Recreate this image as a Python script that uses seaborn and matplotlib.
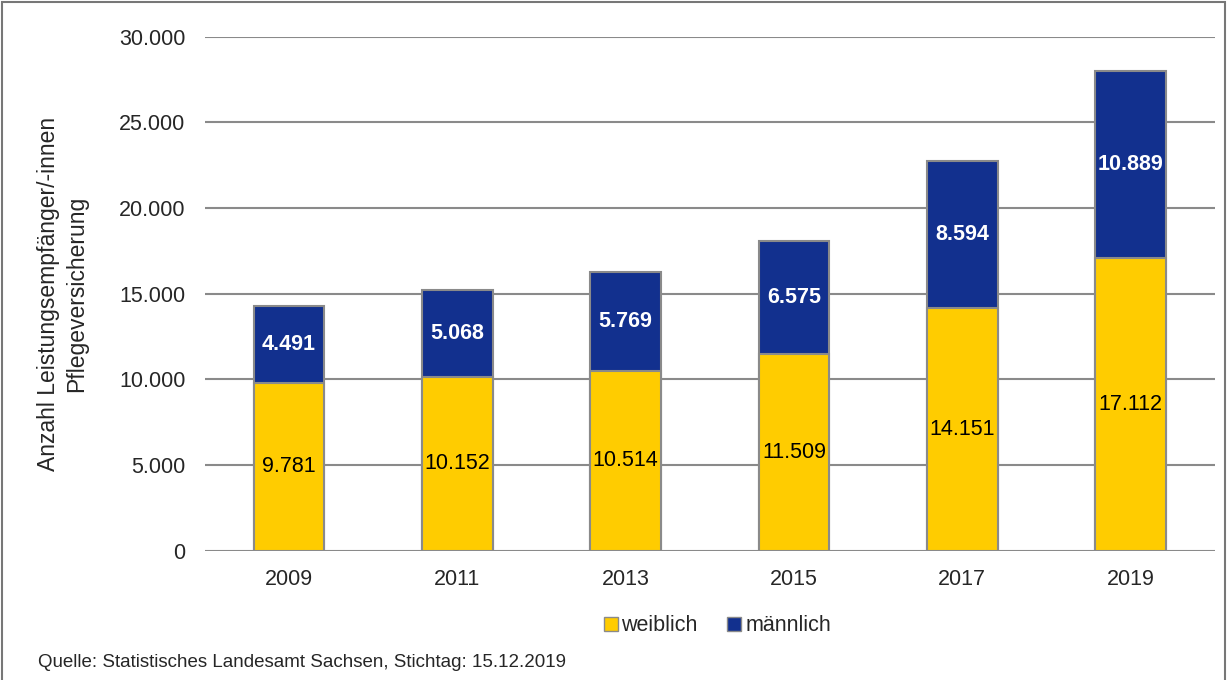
import numpy as np
import pandas as pd
import matplotlib.pyplot as plt
import seaborn as sns
from matplotlib.patches import Rectangle
from matplotlib.lines import Line2D

years = ['2009', '2011', '2013', '2015', '2017', '2019']
weiblich = [9781, 10152, 10514, 11509, 14151, 17112]
maennlich = [4491, 5068, 5769, 6575, 8594, 10889]

df = pd.DataFrame({'Jahr': years, 'weiblich': weiblich, 'maennlich': maennlich})
df['gesamt'] = df['weiblich'] + df['maennlich']

sns.set_style('white')
plt.rcParams['font.family'] = ['Liberation Sans', 'DejaVu Sans']

col_w = '#FFCC00'
col_m = '#12308E'
edge = '#8a8a8a'

fig = plt.figure(figsize=(12.27, 6.8), dpi=100)
ax = fig.add_axes([0.167, 0.19, 0.823, 0.756])

# total first (blue), then female on top from zero -> stacked look
sns.barplot(data=df, x='Jahr', y='gesamt', color=col_m, width=0.42,
            edgecolor=edge, linewidth=1.5, saturation=1, ax=ax, zorder=3)
sns.barplot(data=df, x='Jahr', y='weiblich', color=col_w, width=0.42,
            edgecolor=edge, linewidth=1.5, saturation=1, ax=ax, zorder=4)

def fmt(v):
    return f'{v:,}'.replace(',', '.')

for i, (w, m) in enumerate(zip(weiblich, maennlich)):
    ax.text(i, w / 2, fmt(w), ha='center', va='center', fontsize=15.5,
            color='black', zorder=5)
    ax.text(i, w + m / 2, fmt(m), ha='center', va='center', fontsize=15.5,
            color='white', fontweight='bold', zorder=5)

ax.set_ylim(0, 30000)
ax.set_xlim(-0.5, 5.5)
ax.set_yticks(np.arange(0, 30001, 5000))
ax.set_yticklabels([fmt(v) for v in range(0, 30001, 5000)])
ax.yaxis.grid(True, color='#8a8a8a', linewidth=1.5, zorder=0)
ax.set_axisbelow(True)
for s in ax.spines.values():
    s.set_visible(False)
ax.tick_params(axis='both', labelsize=15.5, length=0)
ax.tick_params(axis='y', pad=14)
ax.tick_params(axis='x', pad=13)
ax.set_xlabel('')
ax.set_ylabel('Anzahl Leistungsempfänger/-innen\nPflegeversicherung',
              fontsize=16.5, labelpad=22, linespacing=1.3)

handles = [Line2D([], [], marker='s', linestyle='', markersize=10,
                  markerfacecolor=col_w, markeredgecolor=edge),
           Line2D([], [], marker='s', linestyle='', markersize=10,
                  markerfacecolor=col_m, markeredgecolor=edge)]
fig.legend(handles, ['weiblich', 'männlich'], loc='center',
           bbox_to_anchor=(0.583, 0.08), ncol=2, frameon=False,
           fontsize=15.5, handletextpad=0.0, columnspacing=1.2,
           handlelength=1.0)

fig.text(0.031, 0.026, 'Quelle: Statistisches Landesamt Sachsen, Stichtag: 15.12.2019',
         fontsize=13.5, ha='left', va='center')

fig.patches.append(Rectangle((0.002, -0.01), 0.996, 1.007,
                             transform=fig.transFigure, fill=False,
                             edgecolor='#777777', linewidth=1.5))

fig.savefig('out.png', dpi=100, facecolor='white')
